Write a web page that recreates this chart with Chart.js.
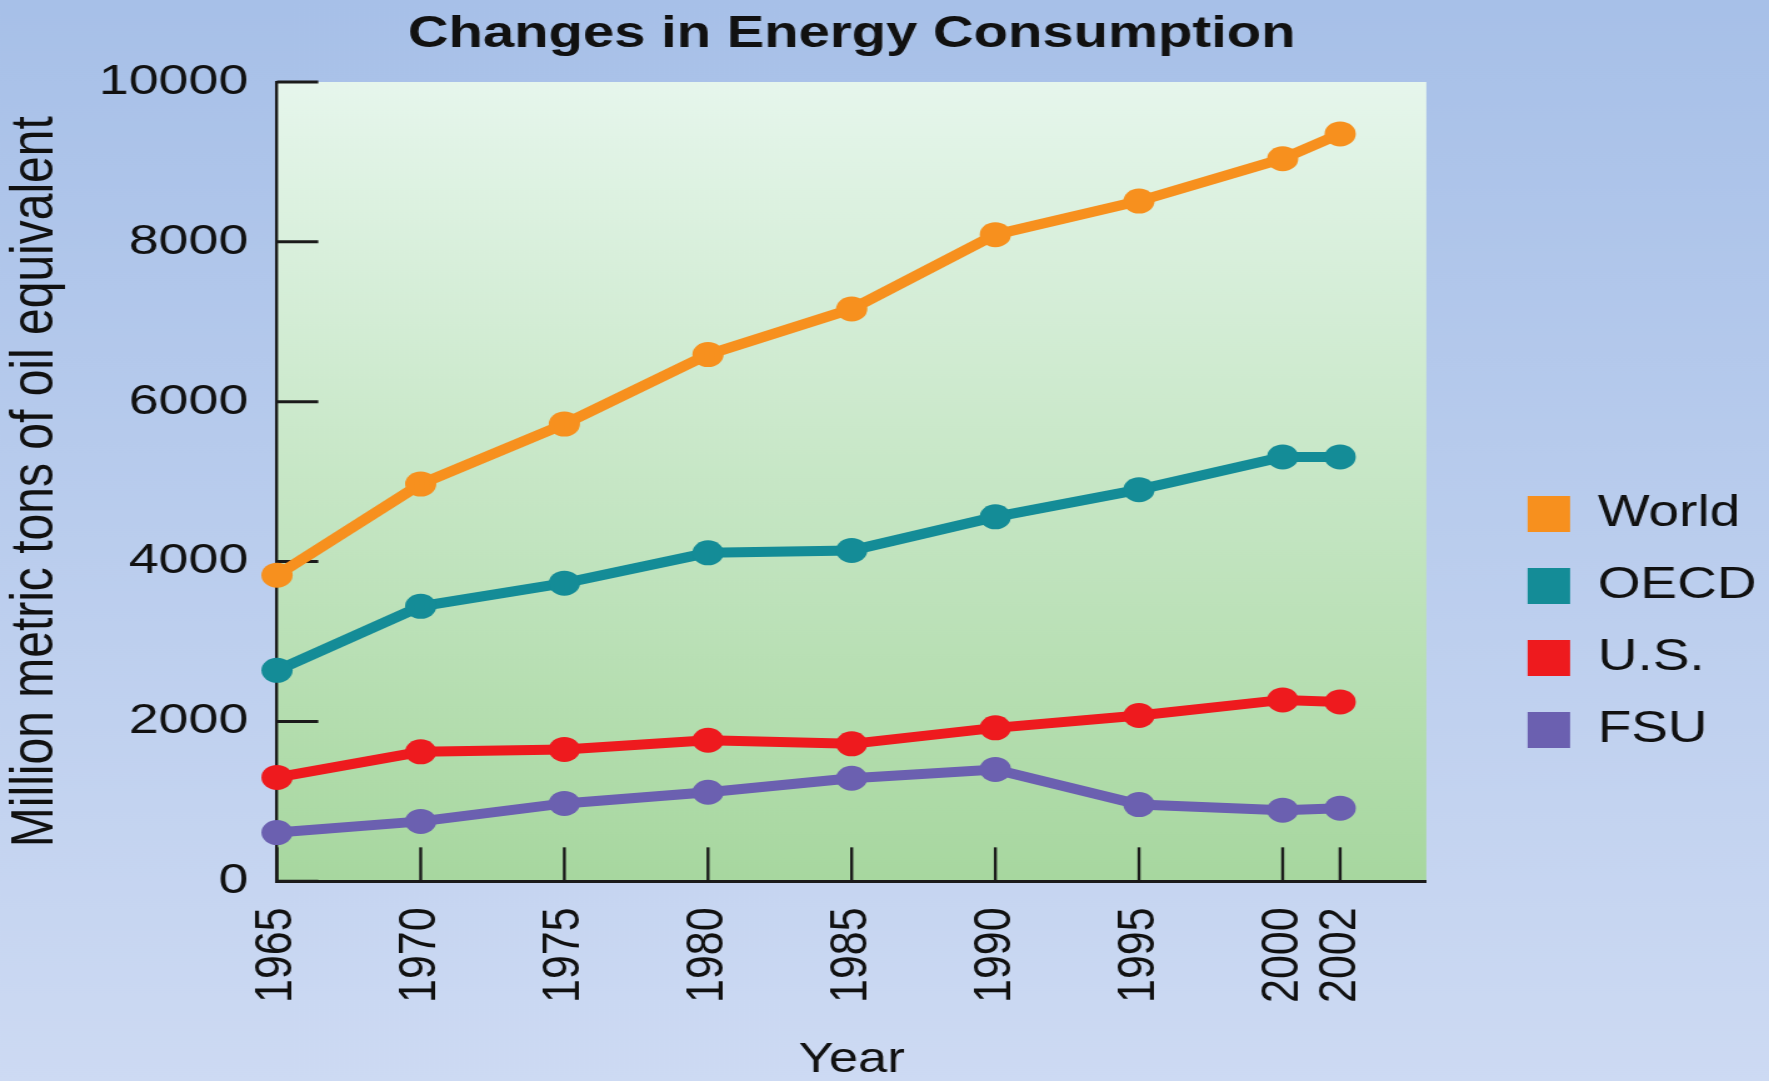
<!DOCTYPE html>
<html>
<head>
<meta charset="utf-8">
<title>Changes in Energy Consumption</title>
<script src="https://cdn.jsdelivr.net/npm/chart.js@4.4.1/dist/chart.umd.min.js"></script>
<style>
    html, body { margin: 0; padding: 0; overflow: hidden; background: #b8cdee; }
    /* the original slide is stretched sideways, so the chart is drawn narrow and widened */
    #wrap { position: absolute; left: 0; top: 0; width: 1415px; height: 1081px;
            transform: scaleX(1.2502); transform-origin: 0 0; }
</style>
</head>
<body>
<div id="wrap"><canvas id="energy"></canvas></div>
<script>
    "use strict";

    // Data
    var years = [1965, 1970, 1975, 1980, 1985, 1990, 1995, 2000, 2002];
    var worldValues = [3830, 4970, 5720, 6590, 7160, 8090, 8510, 9040, 9350];
    var oecdValues = [2640, 3440, 3730, 4110, 4140, 4560, 4900, 5310, 5310];
    var usValues = [1300, 1620, 1650, 1765, 1720, 1920, 2075, 2270, 2245];
    var fsuValues = [610, 750, 975, 1115, 1290, 1400, 960, 890, 915];
    var yearTicks = [1965, 1970, 1975, 1980, 1985, 1990, 1995, 2000, 2002];
    var valueTicks = [0, 2000, 4000, 6000, 8000, 10000];

    var toPoints = function (values) {
        return values.map(function (v, i) { return { x: years[i], y: v }; });
    };

    var series = function (label, values, color) {
        return {
            label: label,
            data: toPoints(values),
            borderColor: color,
            backgroundColor: color,
            pointBackgroundColor: color,
            borderWidth: 10,
            pointRadius: 12.5,
            pointHoverRadius: 12.5,
            pointBorderWidth: 0,
            tension: 0,
            clip: false
        };
    };

    // Backgrounds
    var backdrop = {
        id: 'backdrop',
        beforeDraw: function (chart) {
            var ctx = chart.ctx, a = chart.chartArea;
            ctx.save();
            var page = ctx.createLinearGradient(0, 0, 0, chart.height);
            page.addColorStop(0, '#a7c0e8');
            page.addColorStop(1, '#cddaf3');
            ctx.fillStyle = page;
            ctx.fillRect(0, 0, chart.width, chart.height);
            var plot = ctx.createLinearGradient(0, a.top, 0, a.bottom);
            plot.addColorStop(0, '#e6f6ec');
            plot.addColorStop(1, '#a7d79f');
            ctx.fillStyle = plot;
            ctx.fillRect(a.left, a.top, a.right - a.left, a.bottom - a.top);
            ctx.restore();
        }
    };

    // Tick marks pointing into the plot
    var innerTicks = {
        id: 'innerTicks',
        beforeDatasetsDraw: function (chart) {
            var ctx = chart.ctx, a = chart.chartArea;
            var xs = chart.scales.x, ys = chart.scales.y;
            ctx.save();
            ctx.strokeStyle = '#1b1b1b';
            ctx.lineWidth = 3;
            ys.ticks.forEach(function (t) {
                var py = ys.getPixelForValue(t.value);
                ctx.beginPath();
                ctx.moveTo(a.left, py);
                ctx.lineTo(a.left + 33, py);
                ctx.stroke();
            });
            ctx.lineWidth = 2.4;
            xs.ticks.forEach(function (t) {
                var px = xs.getPixelForValue(t.value);
                ctx.beginPath();
                ctx.moveTo(px, a.bottom);
                ctx.lineTo(px, a.bottom - 34);
                ctx.stroke();
            });
            ctx.restore();
        }
    };

    Chart.defaults.font.family = '"Liberation Sans", Arial, sans-serif';
    Chart.defaults.color = '#111111';

    new Chart(document.getElementById('energy').getContext('2d'), {
        type: 'line',
        data: {
            datasets: [
                series('World', worldValues, '#f7901e'),
                series('OECD', oecdValues, '#148c97'),
                series('U.S.', usValues, '#ee1a1e'),
                series('FSU', fsuValues, '#6b60b0')
            ]
        },
        options: {
            responsive: true,
            maintainAspectRatio: false,
            animation: false,
            events: [],
            layout: { padding: { left: 0, right: 0, top: 0, bottom: 0 } },
            plugins: {
                title: {
                    display: true,
                    text: 'Changes in Energy Consumption',
                    fullSize: false,
                    color: '#111111',
                    font: { size: 45, weight: 'bold', lineHeight: 1.2 },
                    padding: { top: 8, bottom: 20 }
                },
                legend: {
                    position: 'right',
                    align: 'center',
                    title: { display: true, text: ' ', font: { size: 10, lineHeight: 1 }, padding: { top: 153, bottom: 0 } },
                    labels: {
                        boxWidth: 34,
                        boxHeight: 36,
                        padding: 28,
                        color: '#111111',
                        font: { size: 44 },
                        generateLabels: function (chart) {
                            return Chart.defaults.plugins.legend.labels.generateLabels(chart).map(function (l) {
                                l.lineWidth = 0;
                                return l;
                            });
                        }
                    }
                },
                tooltip: { enabled: false }
            },
            scales: {
                x: {
                    type: 'linear',
                    min: 1965,
                    max: 2005,
                    afterBuildTicks: function (scale) {
                        scale.ticks = yearTicks.map(function (v) { return { value: v }; });
                    },
                    ticks: {
                        autoSkip: false,
                        minRotation: 90,
                        maxRotation: 90,
                        padding: 26,
                        color: '#111111',
                        font: { size: 43 },
                        callback: function (v) { return String(v); }
                    },
                    grid: { display: false, drawTicks: false },
                    border: { display: true, color: '#1b1b1b', width: 3 },
                    title: {
                        display: true,
                        text: 'Year',
                        color: '#111111',
                        font: { size: 42, lineHeight: 1 },
                        padding: { top: 10, bottom: 0 }
                    }
                },
                y: {
                    type: 'linear',
                    min: 0,
                    max: 10000,
                    afterBuildTicks: function (scale) {
                        scale.ticks = valueTicks.map(function (v) { return { value: v }; });
                    },
                    ticks: {
                        padding: 23,
                        color: '#111111',
                        font: { size: 43 },
                        callback: function (v) { return String(v); }
                    },
                    grid: { display: false, drawTicks: false },
                    border: { display: true, color: '#1b1b1b', width: 2.4 },
                    title: {
                        display: true,
                        text: 'Million metric tons of oil equivalent',
                        color: '#111111',
                        font: { size: 48, lineHeight: 1 },
                        padding: { top: 5, bottom: 3 }
                    }
                },
                // empty axis keeping the gap between plot and legend
                gap: {
                    type: 'linear',
                    position: 'right',
                    display: true,
                    ticks: { display: false },
                    grid: { display: false, drawTicks: false },
                    border: { display: false },
                    afterFit: function (scale) { scale.width = 53; }
                }
            }
        },
        plugins: [backdrop, innerTicks]
    });
</script>
</body>
</html>
